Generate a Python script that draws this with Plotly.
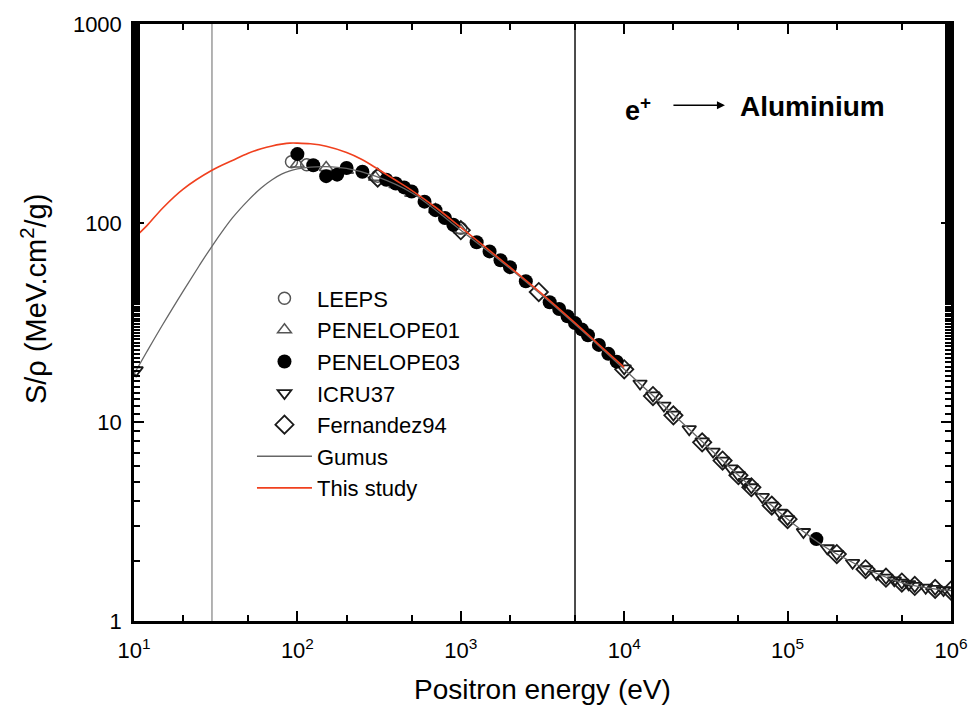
import plotly.graph_objects as go

# ---------------- data (eV, MeV cm2/g) ----------------
leeps_E = [92, 114, 310, 1000]
leeps_S = [203, 196, 172, 94]

pen01_E = [100, 150, 200, 300, 400, 500, 700, 1000]
pen01_S = [198, 190, 184, 170, 156, 141, 117, 92]

pen03_E = [100, 125, 150, 175, 200, 250, 350, 400, 450, 500, 600, 700, 800, 900,
           1250, 1500, 1750, 2000, 2500, 3500, 4000, 4500, 5000, 5500, 6000, 7000,
           8000, 9000, 150000]
pen03_S = [222, 195, 172, 175, 189, 181, 165, 158, 151, 144, 128, 116, 106, 98,
           80, 72, 65, 60, 51, 40, 37, 34, 31.4, 29.2, 27.3, 24.4,
           22, 20.1, 2.58]

icru_E = [10.3, 10000, 12500, 15000, 17500, 20000, 25000, 30000, 35000, 40000, 45000,
          50000, 55000, 60000, 70000, 80000, 90000, 100000, 125000, 175000,
          200000, 250000, 300000, 350000, 400000, 450000, 500000, 550000, 600000,
          700000, 800000, 900000, 1000000]
icru_S = [18.2, 18.6, 15.6, 13.6, 12.1, 10.9, 9.2, 8.0, 7.1, 6.4, 5.85,
          5.4, 5.0, 4.7, 4.2, 3.8, 3.5, 3.25, 2.8, 2.32,
          2.17, 1.96, 1.82, 1.72, 1.65, 1.6, 1.56, 1.53, 1.5,
          1.47, 1.45, 1.43, 1.42]

fern_E = [310, 1000, 3000, 10000, 15000, 20000, 30000, 40000, 50000, 60000, 80000,
          100000, 200000, 300000, 400000, 500000, 600000, 800000, 1000000]
fern_S = [169, 92, 45, 18.4, 13.5, 10.8, 7.9, 6.4, 5.4, 4.7, 3.8,
          3.25, 2.17, 1.82, 1.65, 1.56, 1.5, 1.45, 1.42]

gumus_E = [10, 12, 15, 20, 25, 30, 40, 50, 60, 70, 80, 90, 100, 120, 150, 200, 300,
           500, 1000, 2000, 5000, 10000, 20000, 50000, 100000, 200000, 500000, 1000000]
gumus_S = [17.4, 22.6, 30.9, 45.5, 60.8, 76.4, 106, 130, 150, 165, 176, 183, 187, 191, 192, 188, 172,
           142, 92, 59, 31, 18.4, 10.9, 5.4, 3.25, 2.17, 1.56, 1.42]

study_E = [10, 12, 15, 20, 30, 40, 50, 60, 70, 80, 90, 100, 120, 150, 200, 250, 300,
           400, 500, 700, 1000, 2000, 3000, 5000, 7000, 10000]
study_S = [84, 97, 119, 148, 184, 206, 224, 236, 244, 249, 252, 252, 250, 243, 226, 208, 190,
           164, 146, 120, 95, 60, 45.5, 31.5, 24.5, 18.8]

vlines_E = [30, 5000]
vlines_color = ["#9a9a9a", "#111111"]

x_tickvals = [10, 100, 1000, 10000, 100000, 1000000]
x_ticktext = ["10<sup>1</sup>", "10<sup>2</sup>", "10<sup>3</sup>", "10<sup>4</sup>",
              "10<sup>5</sup>", "10<sup>6</sup>"]
y_tickvals = [1, 10, 100, 1000]
y_ticktext = ["1", "10", "100", "1000"]

FONT = "Liberation Sans, Arial, sans-serif"

fig = go.Figure()

# vertical reference lines
for xv, c in zip(vlines_E, vlines_color):
    fig.add_trace(go.Scatter(x=[xv, xv], y=[1, 1000], mode="lines",
                             line=dict(color=c, width=1.5), showlegend=False,
                             hoverinfo="skip"))

ms = 12
fig.add_trace(go.Scatter(x=leeps_E, y=leeps_S, mode="markers", name="LEEPS", legendrank=1,
                         marker=dict(symbol="circle-open", size=ms, color="#555",
                                     line=dict(width=1.5, color="#555"))))
fig.add_trace(go.Scatter(x=pen01_E, y=pen01_S, mode="markers", name="PENELOPE01", legendrank=2,
                         marker=dict(symbol="triangle-up-open", size=ms, color="#555",
                                     line=dict(width=1.5, color="#555"))))
fig.add_trace(go.Scatter(x=icru_E, y=icru_S, mode="markers", name="ICRU37", legendrank=4,
                         marker=dict(symbol="triangle-down-open", size=ms, color="#1a1a1a",
                                     line=dict(width=1.8, color="#1a1a1a"))))
fig.add_trace(go.Scatter(x=fern_E, y=fern_S, mode="markers", name="Fernandez94", legendrank=5,
                         marker=dict(symbol="diamond-open", size=ms + 2, color="#1a1a1a",
                                     line=dict(width=1.8, color="#1a1a1a"))))
fig.add_trace(go.Scatter(x=pen03_E, y=pen03_S, mode="markers", name="PENELOPE03", legendrank=3,
                         marker=dict(symbol="circle", size=14, color="#000")))
fig.add_trace(go.Scatter(x=gumus_E, y=gumus_S, mode="lines", name="Gumus", legendrank=6,
                         line=dict(color="#666", width=1.3, shape="spline")))
fig.add_trace(go.Scatter(x=study_E, y=study_S, mode="lines", name="This study", legendrank=7,
                         line=dict(color="#f0401e", width=1.6, shape="spline")))

axis_common = dict(
    type="log", showline=True, linecolor="#000", linewidth=2.5, mirror="allticks",
    ticks="inside", ticklen=10, tickwidth=2, tickcolor="#000",
    showgrid=False, zeroline=False,
    tickfont=dict(family=FONT, size=22, color="#000"),
    minor=dict(ticks="inside", ticklen=6, tickwidth=1.5, tickcolor="#000", showgrid=False),
)

fig.update_xaxes(**axis_common, range=[1, 6], tickvals=x_tickvals, ticktext=x_ticktext,
                 ticklabelstandoff=8)
fig.update_yaxes(**axis_common, range=[0, 3], tickvals=y_tickvals, ticktext=y_ticktext,
                 ticklabelstandoff=5)

# axis titles as annotations for precise placement
fig.add_annotation(xref="paper", yref="paper", x=0.5, y=-0.1144, xanchor="center", yanchor="middle",
                   text="Positron energy (eV)", showarrow=False,
                   font=dict(family=FONT, size=28, color="#000"))
fig.add_annotation(xref="paper", yref="paper", x=-0.1226, y=0.539, xanchor="center", yanchor="middle",
                   text="S/ρ (MeV.cm<sup>2</sup>/g)", textangle=-90, showarrow=False,
                   font=dict(family=FONT, size=29, color="#000"))

# annotation: e+ -> Aluminium
fig.add_annotation(xref="paper", yref="paper", x=0.6165, y=0.857, xanchor="center", yanchor="middle",
                   text="<b>e<sup>+</sup></b>",
                   showarrow=False, font=dict(family=FONT, size=27, color="#000"))
fig.add_annotation(xref="paper", yref="paper", x=0.7233, y=0.864, text="",
                   showarrow=True, ax=-53, ay=0, arrowhead=2, arrowsize=1, arrowwidth=1.6,
                   arrowcolor="#000")
fig.add_annotation(xref="paper", yref="paper", x=0.830, y=0.861, xanchor="center", yanchor="middle",
                   text="<b>Aluminium</b>",
                   showarrow=False, font=dict(family=FONT, size=28, color="#000"))

fig.update_layout(
    width=980, height=714,
    margin=dict(l=134, r=22, t=18, b=93),
    paper_bgcolor="white", plot_bgcolor="white",
    legend=dict(x=0.1444, y=0.5755, xanchor="left", yanchor="top",
                bgcolor="rgba(0,0,0,0)", borderwidth=0,
                font=dict(family=FONT, size=22, color="#000"),
                traceorder="normal", itemwidth=55, tracegroupgap=0),
    showlegend=True,
)

fig.write_html("out.html")
